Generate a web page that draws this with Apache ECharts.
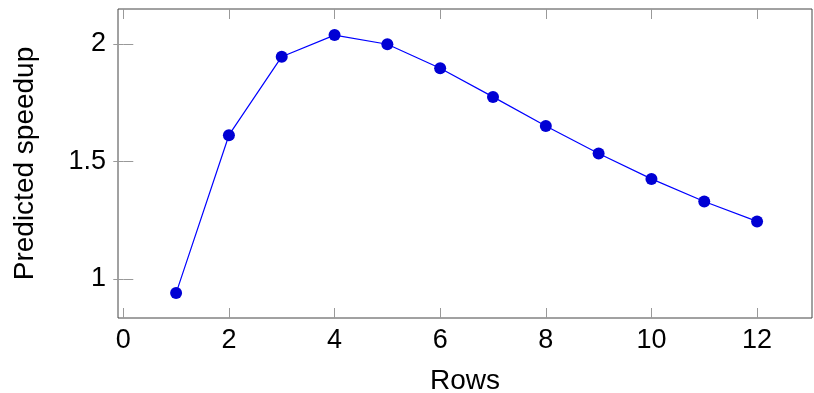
<!DOCTYPE html>
<html>
<head>
<meta charset="utf-8">
<script src="https://cdn.jsdelivr.net/npm/echarts@6/dist/echarts.min.js"></script>
<style>
  html, body { margin: 0; padding: 0; background: #fff; }
  #chart { width: 814px; height: 393px; }
</style>
</head>
<body>
<div id="chart"></div>
<script>
var rows = [1, 2, 3, 4, 5, 6, 7, 8, 9, 10, 11, 12];
var speedup = [0.940, 1.612, 1.946, 2.038, 1.999, 1.897, 1.775, 1.651, 1.534, 1.426, 1.330, 1.245];
var xTicks = [0, 2, 4, 6, 8, 10, 12];
var yTicks = [1, 1.5, 2];

var points = [];
for (var i = 0; i < rows.length; i++) {
  points.push([rows[i], speedup[i]]);
}

var font = 'Liberation Sans';
var tickStyle = { show: true, inside: true, length: 10, lineStyle: { color: '#999', width: 1 } };

var chart = echarts.init(document.getElementById('chart'));
chart.setOption({
  backgroundColor: '#fff',
  animation: false,
  grid: {
    left: 118, top: 9, right: 2, bottom: 75,
    outerBoundsMode: 'none',
    containLabel: false,
    show: true, borderColor: '#444', borderWidth: 1
  },
  xAxis: [{
    type: 'value',
    min: -0.1, max: 13.04,
    name: 'Rows',
    nameLocation: 'middle',
    nameGap: 49,
    nameTextStyle: { fontFamily: font, fontSize: 28, color: '#000' },
    axisLine: { show: false },
    axisTick: Object.assign({ customValues: xTicks }, tickStyle),
    axisLabel: { customValues: xTicks, fontFamily: font, fontSize: 27, color: '#000', margin: 9 },
    splitLine: { show: false }
  }, {
    type: 'value', position: 'top',
    min: -0.1, max: 13.04,
    axisLine: { show: false },
    axisTick: Object.assign({ customValues: xTicks }, tickStyle),
    axisLabel: { show: false },
    splitLine: { show: false }
  }],
  yAxis: [{
    type: 'value',
    min: 0.834, max: 2.149,
    name: 'Predicted speedup',
    nameLocation: 'middle',
    nameGap: 79,
    nameTextStyle: { fontFamily: font, fontSize: 28, color: '#000' },
    axisLine: { show: false },
    axisTick: Object.assign({ customValues: yTicks }, tickStyle),
    axisLabel: { customValues: yTicks, fontFamily: font, fontSize: 27, color: '#000', margin: 12 },
    splitLine: { show: false }
  }, {
    type: 'value', position: 'right',
    min: 0.834, max: 2.149,
    axisLine: { show: false },
    axisTick: Object.assign({ customValues: yTicks }, tickStyle),
    axisLabel: { show: false },
    splitLine: { show: false }
  }],
  series: [{
    type: 'line',
    data: points,
    symbol: 'circle',
    symbolSize: 12,
    lineStyle: { color: '#0000ff', width: 1.2 },
    itemStyle: { color: '#0000d4', borderWidth: 0 }
  }]
});
</script>
</body>
</html>
